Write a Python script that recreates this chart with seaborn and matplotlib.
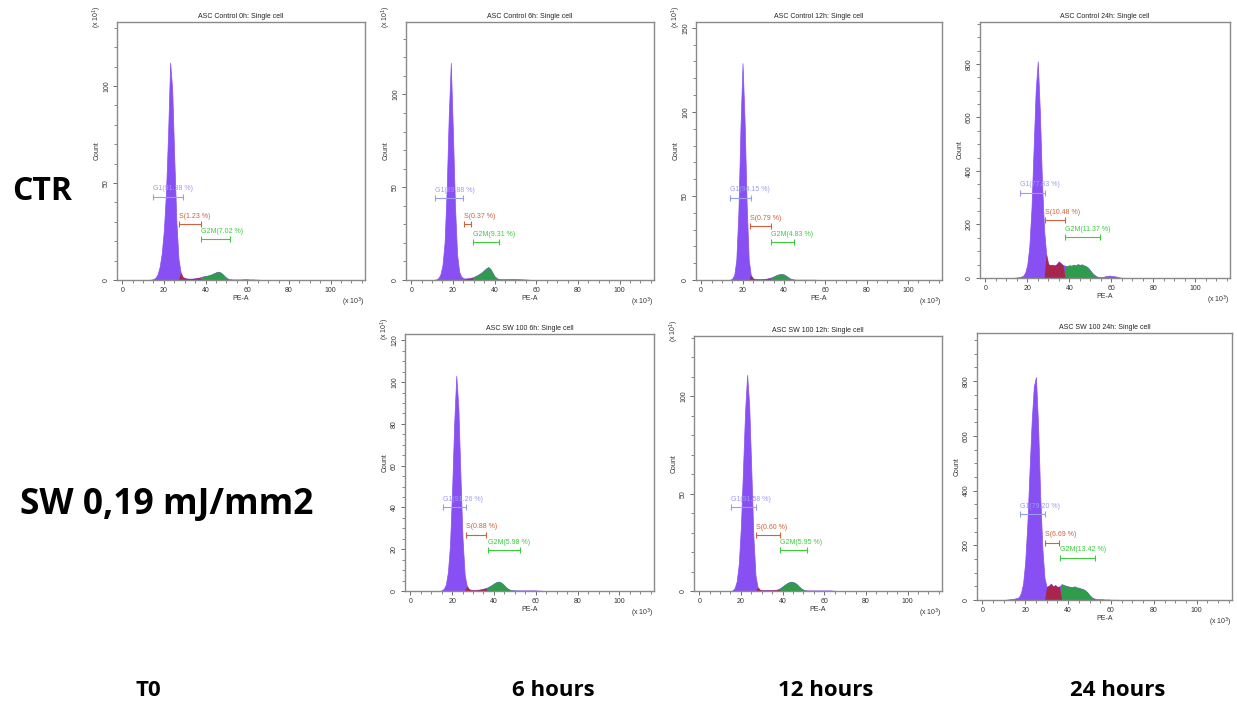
import numpy as np
import pandas as pd
import matplotlib
matplotlib.use("Agg")
import matplotlib.pyplot as plt
from matplotlib.ticker import MultipleLocator
import seaborn as sns

sns.set_theme(style="white")
plt.rcParams['font.family'] = ['Liberation Sans', 'DejaVu Sans']

# PE-A channel bins (x 10^3), one per unit from 10 to 69
pe_bins = list(range(10, 70))

# Cell counts per bin (displayed axis units)
counts_ctr_0h = [0, 0, 0, 0.1, 0.2, 0.5, 1.2, 3, 7, 14,
                 26, 45, 75, 112, 98, 62, 30, 11, 4, 1.6,
                 1.0, 0.8, 0.7, 0.7, 0.8, 0.9, 1.1, 1.3, 1.6, 1.9,
                 2.1, 2.3, 2.6, 3.0, 3.5, 4.0, 4.3, 4.0, 3.2, 2.1,
                 1.1, 0.6, 0.4, 0.3, 0.3, 0.3, 0.3, 0.3, 0.4, 0.4,
                 0.4, 0.3, 0.3, 0.3, 0.2, 0.2, 0.1, 0, 0, 0]
counts_ctr_6h = [0, 0.1, 0.3, 1, 3, 8, 20, 48, 88, 117,
                 80, 40, 14, 4.5, 1.8, 1.0, 0.8, 0.9, 1.0, 1.3,
                 1.7, 2.2, 2.8, 3.5, 4.3, 5.3, 6.3, 7.0, 6.0, 4.0,
                 2.0, 1.0, 0.6, 0.5, 0.5, 0.5, 0.5, 0.6, 0.6, 0.6,
                 0.5, 0.5, 0.4, 0.4, 0.3, 0.3, 0.2, 0.1, 0, 0,
                 0, 0, 0, 0, 0, 0, 0, 0, 0, 0]
counts_ctr_12h = [0, 0, 0, 0, 0.2, 0.8, 3, 12, 40, 90,
                  129, 95, 45, 12, 3, 1, 0.6, 0.5, 0.5, 0.5,
                  0.6, 0.7, 0.9, 1.2, 1.6, 2.1, 2.7, 3.2, 3.5, 3.6,
                  3.3, 2.6, 1.7, 0.9, 0.5, 0.3, 0.2, 0.2, 0.2, 0.2,
                  0.2, 0.2, 0.2, 0.2, 0.2, 0.2, 0.1, 0.1, 0, 0,
                  0, 0, 0, 0, 0, 0, 0, 0, 0, 0]
counts_ctr_24h = [0, 0, 0, 0, 1, 2, 3, 5, 8, 20,
                  50, 120, 260, 480, 700, 810, 620, 360, 180, 90,
                  52, 48, 50, 47, 52, 62, 55, 48, 46, 44,
                  48, 46, 50, 47, 52, 49, 51, 47, 44, 38,
                  28, 18, 11, 6, 4, 3, 4, 6, 8, 9,
                  8, 7, 6, 4, 2, 1, 0.5, 0, 0, 0]
counts_sw_6h = [0, 0, 0, 0, 0, 0.3, 1, 3, 9, 22,
                48, 80, 103, 88, 55, 25, 8, 2.5, 1.0, 0.6,
                0.5, 0.5, 0.6, 0.7, 0.9, 1.1, 1.4, 1.8, 2.3, 2.9,
                3.6, 4.2, 4.5, 4.3, 3.6, 2.6, 1.6, 0.9, 0.5, 0.4,
                0.3, 0.3, 0.3, 0.3, 0.3, 0.3, 0.3, 0.3, 0.3, 0.3,
                0.3, 0.2, 0.2, 0.1, 0, 0, 0, 0, 0, 0]
counts_sw_12h = [0, 0, 0, 0, 0, 0, 0.3, 1.5, 5, 14,
                 33, 62, 92, 111, 95, 62, 28, 8, 2, 0.8,
                 0.5, 0.5, 0.5, 0.5, 0.5, 0.5, 0.6, 0.6, 1.0, 1.6,
                 2.4, 3.2, 3.9, 4.5, 4.8, 4.6, 4.2, 3.3, 2.2, 1.3,
                 0.7, 0.4, 0.3, 0.3, 0.3, 0.3, 0.3, 0.3, 0.3, 0.3,
                 0.3, 0.3, 0.3, 0.3, 0.2, 0.1, 0, 0, 0, 0]
counts_sw_24h = [0, 1, 2, 3, 4, 5, 7, 10, 25, 60,
                 140, 280, 470, 650, 780, 815, 640, 380, 190, 80,
                 48, 52, 60, 50, 55, 48, 50, 58, 55, 52,
                 50, 48, 47, 50, 46, 45, 42, 40, 35, 28,
                 18, 10, 6, 4, 3, 3, 3, 2, 2, 2,
                 1, 1, 1, 1, 0.5, 0, 0, 0, 0, 0]

titles = ["ASC Control 0h: Single cell", "ASC Control 6h: Single cell",
          "ASC Control 12h: Single cell", "ASC Control 24h: Single cell",
          "ASC SW 100 6h: Single cell", "ASC SW 100 12h: Single cell",
          "ASC SW 100 24h: Single cell"]

# Cell-cycle phase percentages
g1_pct = [91.38, 89.88, 94.15, 77.83, 91.26, 91.58, 79.20]
s_pct = [1.23, 0.37, 0.79, 10.48, 0.88, 0.60, 6.69]
g2m_pct = [7.02, 9.31, 4.83, 11.37, 5.98, 5.95, 13.42]

# Gate markers: (low, high, height)
g1_gates = [(15, 29, 43), (11.5, 25, 44), (14, 24, 49), (16.7, 28.6, 319),
            (15.6, 26.8, 40), (15.3, 27.2, 43), (17.7, 29.3, 313)]
s_gates = [(27.3, 37.8, 29), (25.3, 28.8, 30), (23.7, 34, 32), (28.6, 38, 215),
           (26.8, 36.3, 27), (27.2, 38.6, 28.7), (29.3, 35.8, 210)]
g2m_gates = [(38, 51.5, 21), (29.6, 42.3, 20.5), (33.6, 45, 22.6), (37.8, 54.4, 154),
             (37, 52.4, 19.7), (39, 51.7, 21), (36.2, 52.4, 155)]

# Axis setup per panel
y_top = [133, 139, 153.5, 957, 123, 131, 976]
y_major = [50, 50, 50, 200, 20, 50, 200]
y_minor = [10, 10, 10, 50, 5, 10, 50]
y_scaled = [True, True, True, False, True, True, False]

counts_all = [counts_ctr_0h, counts_ctr_6h, counts_ctr_12h, counts_ctr_24h,
              counts_sw_6h, counts_sw_12h, counts_sw_24h]

# Panel frames in pixels: left, top, right, bottom
frames = [(117, 22, 365, 280), (406, 22, 654, 280), (696, 22, 942, 280),
          (980, 22, 1230, 278), (405, 334, 654, 591), (694, 336, 942, 591),
          (977, 333, 1232, 600)]

PURPLE = "#8850F2"
RED = "#A8264E"
GREEN = "#2F9C4C"
C_G1 = "#9A9CF2"
C_S = "#D2603A"
C_G2M = "#3CCB3C"
FRAME = "#8a8a8a"

W, H = 1237, 704
fig = plt.figure(figsize=(W / 100, H / 100), dpi=100)

tiny = 5
hist_kw = dict(x="pe", weights="count", binwidth=1, binrange=(9.5, 69.5),
               element="poly", fill=True, alpha=1)

for i in range(7):
    l, t, r, b = frames[i]
    ax = fig.add_axes([l / W, 1 - b / H, (r - l) / W, (b - t) / H])
    df = pd.DataFrame({"pe": pe_bins, "count": counts_all[i]})
    s_lo = s_gates[i][0]
    g_lo, g_hi = g2m_gates[i][0], g2m_gates[i][1]
    df["phase"] = np.select(
        [(df.pe >= s_lo) & (df.pe < g_lo), (df.pe >= g_lo) & (df.pe <= g_hi)],
        ["S", "G2M"], "G1")

    sns.histplot(data=df, color=PURPLE, linewidth=0.5, edgecolor=PURPLE,
                 ax=ax, **hist_kw)
    sns.histplot(data=df[df.phase != "G1"], hue="phase",
                 hue_order=["S", "G2M"], palette={"S": RED, "G2M": GREEN},
                 linewidth=0, legend=False, ax=ax, **hist_kw)

    for (lo, hi, y), pct, name, col in [(g1_gates[i], g1_pct[i], "G1", C_G1),
                                         (s_gates[i], s_pct[i], "S", C_S),
                                         (g2m_gates[i], g2m_pct[i], "G2M", C_G2M)]:
        ax.plot([lo, hi], [y, y], color=col, lw=0.8, marker="|",
                markersize=4, markeredgewidth=0.8)
        ax.annotate(f"{name}({pct:.2f} %)", (lo, y), xytext=(0, 3),
                    textcoords="offset points", fontsize=tiny, color=col,
                    ha="left", va="bottom")

    ax.set_xlim(-2.5, 116.5)
    ax.set_ylim(0, y_top[i])
    ax.xaxis.set_major_locator(MultipleLocator(20))
    ax.xaxis.set_minor_locator(MultipleLocator(5))
    ax.yaxis.set_major_locator(MultipleLocator(y_major[i]))
    ax.yaxis.set_minor_locator(MultipleLocator(y_minor[i]))
    ax.tick_params(which="major", length=3, width=0.6, color="#555555",
                   labelsize=tiny, labelcolor="#333333", pad=2,
                   bottom=True, left=True, direction="out")
    ax.tick_params(which="minor", length=2, width=0.5, color="#555555",
                   bottom=True, left=True, direction="out")
    for lab in ax.get_yticklabels():
        lab.set_rotation(90)
        lab.set_va("center")
    for sp in ax.spines.values():
        sp.set_color(FRAME)
        sp.set_linewidth(1.0)
    ax.set_facecolor("white")
    ax.set_title(titles[i], fontsize=tiny, color="#222222", pad=3)
    ax.set_xlabel("PE-A", fontsize=tiny, color="#333333", labelpad=1)
    ax.set_ylabel("Count", fontsize=tiny, color="#333333", labelpad=2)
    ax.text(1.0, -22 / (b - t), r"(x 10$^3$)", transform=ax.transAxes,
            fontsize=tiny, color="#333333", ha="right", va="center")
    if y_scaled[i]:
        ax.text(-0.08, 1.02, r"(x 10$^1$)", transform=ax.transAxes,
                fontsize=tiny, color="#333333", rotation=90,
                ha="center", va="center")

big = dict(family=["Open Sans", "DejaVu Sans"], fontweight="bold", color="black")
fig.text(12 / W, 1 - 191 / H, "CTR", fontsize=23, ha="left", va="center", **big)
fig.text(20 / W, 1 - 505 / H, "SW 0,19 mJ/mm2", fontsize=25.5, ha="left",
         va="center", **big)
for label, xc in [("T0", 148), ("6 hours", 553), ("12 hours", 826),
                  ("24 hours", 1118)]:
    fig.text(xc / W, 1 - 690 / H, label, fontsize=16, ha="center",
             va="center", **big)

fig.savefig("out.png", dpi=100, facecolor="white")
